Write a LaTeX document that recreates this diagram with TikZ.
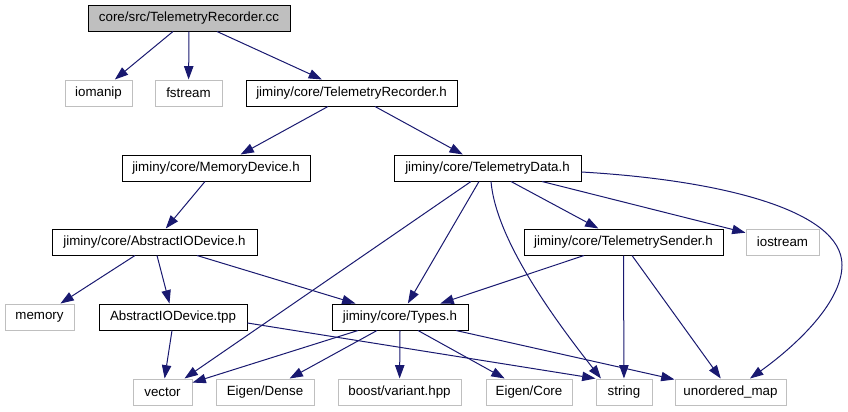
\documentclass[tikz,border=0pt]{standalone}
\usepackage{fontspec}
\setmainfont{Liberation Sans}
\usetikzlibrary{arrows.meta,calc}
\definecolor{edge}{RGB}{25,25,112}
\definecolor{extgray}{RGB}{191,191,191}
\tikzset{
  hdr/.style={draw=black,fill=white,line width=0.75pt,minimum height=19.5pt,
    inner sep=0pt,font=\fontsize{10}{12}\selectfont},
  ext/.style={hdr,draw=extgray},
  srcf/.style={hdr,fill=extgray},
  dep/.style={draw=edge,line width=0.75pt,-{Triangle[length=10pt,width=7pt]}},
}

\begin{document}
\begin{tikzpicture}[x=0.75pt,y=-0.75pt]
  \useasboundingbox (0,0) rectangle (848,411);
  % rank 0
  \node[srcf,minimum width=151.5pt] (root) at (189,18) {core/src/TelemetryRecorder.cc};
  % rank 1
  \node[ext,minimum width=50.25pt]  (iom)  at (98.5,93)  {iomanip};
  \node[ext,minimum width=50.25pt]  (fst)  at (188.5,93) {fstream};
  \node[hdr,minimum width=158.25pt] (trh)  at (351.5,93) {jiminy/core/TelemetryRecorder.h};
  % rank 2
  \node[hdr,minimum width=141pt]    (mdev)  at (216,168)   {jiminy/core/MemoryDevice.h};
  \node[hdr,minimum width=140.25pt] (tdata) at (487.5,168) {jiminy/core/TelemetryData.h};
  % rank 3
  \node[hdr,minimum width=153.75pt] (aioh)  at (154.5,242) {jiminy/core/AbstractIODevice.h};
  \node[hdr,minimum width=149.25pt] (tsend) at (623.5,242) {jiminy/core/TelemetrySender.h};
  \node[ext,minimum width=54.75pt]  (iost)  at (782.5,242) {iostream};
  % rank 4
  \node[ext,minimum width=51.75pt] (mem)   at (39.5,317) {memory};
  \node[hdr,minimum width=111pt]   (aiot)  at (173,317)  {AbstractIODevice.tpp};
  \node[hdr,minimum width=102pt]   (types) at (400,317)  {jiminy/core/Types.h};
  % rank 5
  \node[ext,minimum width=44.25pt] (vec)   at (162.5,392) {vector};
  \node[ext,minimum width=73.5pt]  (dense) at (265,392)   {Eigen/Dense};
  \node[ext,minimum width=92.25pt] (boost) at (399.5,392) {boost/variant.hpp};
  \node[ext,minimum width=64.5pt]  (core)  at (529,392)   {Eigen/Core};
  \node[ext,minimum width=42pt]    (str)   at (624,392)   {string};
  \node[ext,minimum width=83.25pt] (umap)  at (730.5,392) {unordered\_map};

  % includes
  \draw[dep] ($(root.south)+(-16,0)$) -- (iom);
  \draw[dep] (root.south) -- (fst);
  \draw[dep] ($(root.south)+(28,0)$) -- (trh);
  \draw[dep] ($(trh.south)+(-23.5,0)$) -- (mdev);
  \draw[dep] ($(trh.south)+(23.5,0)$) -- (tdata);
  \draw[dep] ($(mdev.south)+(-11,0)$) -- (aioh);
  \draw[dep] ($(tdata.south)+(-16.5,0)$) -- ($(vec.north)+(22,0)$);
  \draw[dep] ($(tdata.south)+(-8.5,0)$) -- (types);
  \draw[dep] ($(tdata.south)+(3.5,0)$) .. controls (496,240) and (555,320) .. ($(str.north)+(-23,0)$);
  \draw[dep] ($(tdata.south)+(23.5,0)$) -- (tsend);
  \draw[dep] ($(tdata.south)+(54.5,0)$) -- (iost);
  \draw[dep] ($(tdata.east)+(0,4)$) .. controls (720,180) and (842,210) .. (842,265)
     .. controls (842,305) and (790,350) .. ($(umap.north)+(19.5,0)$);
  \draw[dep] ($(aioh.south)+(-19.5,0)$) -- (mem);
  \draw[dep] ($(aioh.south)+(2.5,0)$) -- (aiot);
  \draw[dep] ($(aioh.south)+(42.5,0)$) -- (types);
  \draw[dep] ($(tsend.south)+(-39.5,0)$) -- (types);
  \draw[dep] (tsend.south) -- (str);
  \draw[dep] ($(tsend.south)+(8.5,0)$) -- (umap);
  \draw[dep] ($(aiot.south)+(-1,0)$) -- (vec);
  \draw[dep] ($(aiot.east)+(0,6)$) -- (str.north west);
  \draw[dep] ($(types.south)+(-42,0)$) -- (vec);
  \draw[dep] ($(types.south)+(-23,0)$) -- (dense);
  \draw[dep] (types.south) -- (boost);
  \draw[dep] ($(types.south)+(18,0)$) -- (core);
  \draw[dep] ($(types.south)+(56,0)$) -- (umap);
\end{tikzpicture}
\end{document}
